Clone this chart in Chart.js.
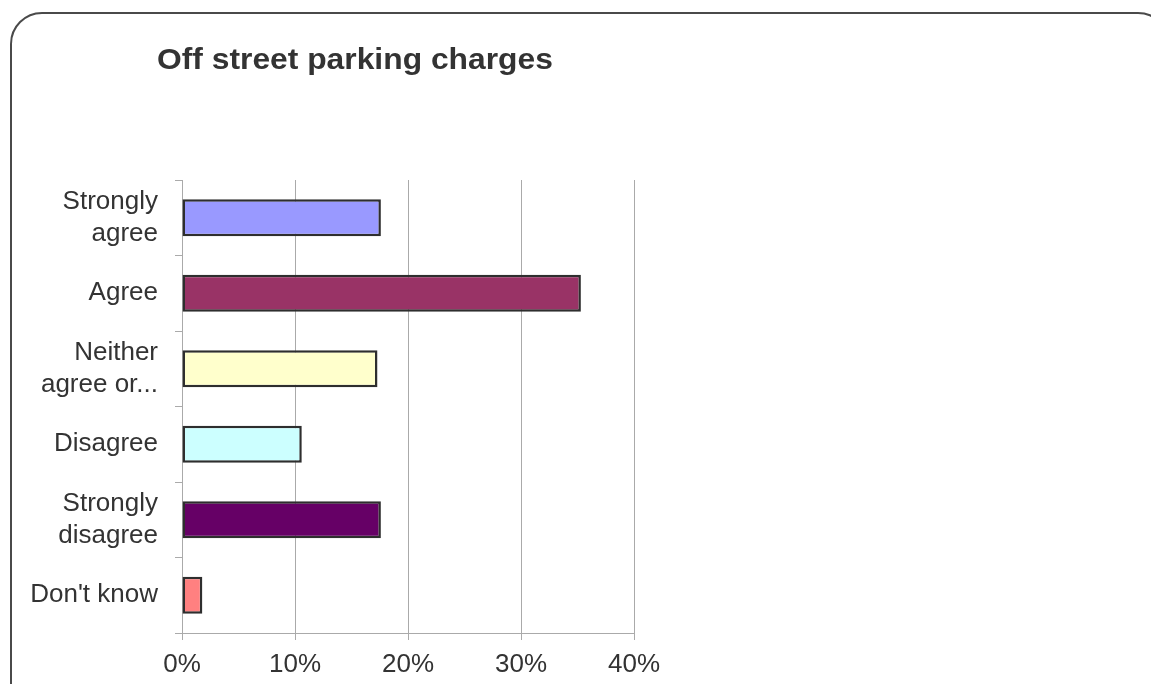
<!DOCTYPE html>
<html>
<head>
<meta charset="utf-8">
<script src="https://cdn.jsdelivr.net/npm/chart.js@4/dist/chart.umd.min.js"></script>
<style>
    html, body { margin: 0; padding: 0; background: #fff; overflow: hidden; }
    #wrap { position: relative; width: 1151px; height: 684px; }
    #frame {
        position: absolute; left: 10px; top: 12px; width: 1160px; height: 720px;
        border: 2px solid #4a4a4a; border-radius: 32px; pointer-events: none;
        box-sizing: border-box;
    }
    #title {
        position: absolute; left: 157px; top: 42px;
        font: bold 30px "Liberation Sans", Arial, sans-serif; color: #333;
        transform: scaleX(1.06); transform-origin: left top; white-space: nowrap;
    }
</style>
</head>
<body>
<div id="wrap">
    <canvas id="parkingChart" width="1151" height="684"></canvas>
    <div id="frame"></div>
    <div id="title">Off street parking charges</div>
</div>
<script>
    // Respuestas de la encuesta (porcentaje)
    var categorias = [
        ['Strongly', 'agree'],
        'Agree',
        ['Neither', 'agree or...'],
        'Disagree',
        ['Strongly', 'disagree'],
        "Don't know"
    ];
    var porcentajes = [17.6, 35.3, 17.3, 10.6, 17.6, 1.8];
    var colores = ['#9999FF', '#993366', '#FFFFCC', '#CCFFFF', '#660066', '#FF8080'];
    var ticksX = [0, 10, 20, 30, 40];

    var fuente = { family: '"Liberation Sans", Arial, sans-serif', size: 26 };

    var ctx = document.getElementById('parkingChart');
    new Chart(ctx, {
        type: 'bar',
        data: {
            labels: categorias,
            datasets: [{
                data: porcentajes,
                backgroundColor: colores,
                borderColor: '#2e2e2e',
                borderWidth: 2.5,
                borderSkipped: false,
                barPercentage: 0.49,
                categoryPercentage: 1
            }]
        },
        options: {
            indexAxis: 'y',
            responsive: false,
            animation: false,
            layout: { padding: { left: 0, top: 180, right: 517, bottom: 0 } },
            plugins: {
                legend: { display: false },
                tooltip: { enabled: false }
            },
            scales: {
                x: {
                    min: ticksX[0],
                    max: ticksX[ticksX.length - 1],
                    afterBuildTicks: function(scale) {
                        scale.ticks = ticksX.map(function(v) { return { value: v }; });
                    },
                    afterFit: function(scale) { scale.height = 51; },
                    ticks: {
                        color: '#333',
                        font: fuente,
                        padding: 9,
                        callback: function(v) { return v + '%'; }
                    },
                    grid: { color: '#aaa', lineWidth: 1, tickLength: 7 },
                    border: { color: '#aaa' }
                },
                y: {
                    afterFit: function(scale) { scale.width = 182; },
                    ticks: {
                        color: '#333',
                        font: Object.assign({ lineHeight: 1.2 }, fuente),
                        padding: 17
                    },
                    grid: { drawOnChartArea: false, color: '#aaa', tickLength: 7 },
                    border: { color: '#aaa' }
                }
            }
        }
    });
</script>
</body>
</html>
